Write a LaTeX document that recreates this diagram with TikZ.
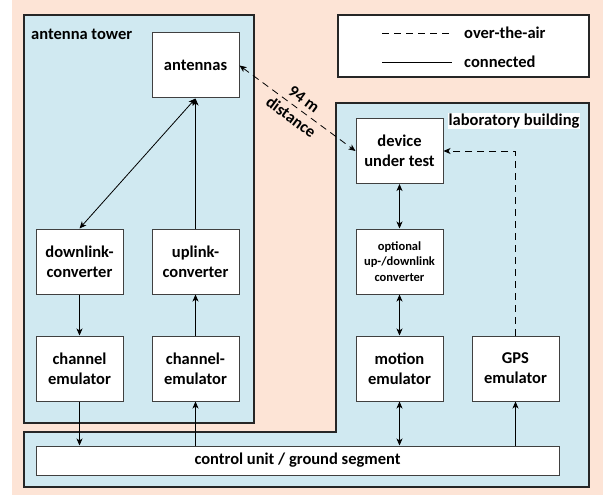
\documentclass[tikz,border=0pt]{standalone}
\usepackage{fontspec}
\setmainfont{Carlito}
\usetikzlibrary{arrows.meta}
\definecolor{peach}{HTML}{FDE4D6}
\definecolor{sky}{HTML}{D0E9F1}
\definecolor{edge}{HTML}{404040}
\begin{document}
\begin{tikzpicture}[x=1pt,y=-1pt,
  blk/.style={draw=edge,line width=1pt,fill=white,minimum width=87pt,minimum height=65pt,inner sep=0pt,align=center,font=\fontsize{16.5}{20}\selectfont\bfseries},
  region/.style={draw=black!85,line width=1.6pt,fill=sky},
  lbl/.style={font=\fontsize{16.5}{20}\selectfont\bfseries,inner sep=1pt},
  tip/.tip={Stealth[length=7pt,width=6pt,inset=2pt]},
  conn/.style={line width=0.8pt,-tip},
  both/.style={line width=0.8pt,tip-tip},
  ota/.style={dash pattern=on 7pt off 5pt}
]
\useasboundingbox (0,0) rectangle (603,495);
\fill[peach] (12,0) rectangle (603,495);
\draw[region] (24,15) rectangle (254,423);
\draw[region] (24,432) -- (336,432) -- (336,103) -- (589,103) -- (589,487) -- (24,487) -- cycle;
\draw[draw=black!85,line width=1.6pt,fill=white] (338,15) rectangle (589,77);

% legend
\coordinate (l1a) at (382,33); \coordinate (l1b) at (452,33);
\coordinate (l2a) at (382,62); \coordinate (l2b) at (452,62);
\draw[line width=0.8pt,ota] (l1a) -- (l1b);
\draw[line width=0.8pt] (l2a) -- (l2b);
\node[lbl,anchor=west] (lota) at (463,33) {over-the-air};
\node[lbl,anchor=west] (lcon) at (463,62) {connected};

% region labels
\node[lbl,anchor=west] (tower) at (30,34) {antenna tower};
\node[lbl,fill=white] (lab) at (514,121) {laboratory building};

% blocks
\node[blk] (ant) at (195.5,65.5) {antennas};
\node[blk] (dlc) at (79.5,261.5) {downlink-\\converter};
\node[blk] (ulc) at (195.5,261.5) {uplink-\\converter};
\node[blk] (ch1) at (79.5,368.5) {channel\\emulator};
\node[blk] (ch2) at (195.5,368.5) {channel-\\emulator};
\node[blk,minimum width=523pt,minimum height=29pt] (ctrl) at (297.5,460.5) {control unit / ground segment};
\node[blk] (dut) at (399.5,151) {device\\under test};
\node[blk,font=\fontsize{12.5}{15.5}\selectfont\bfseries] (opt) at (399.5,261.5) {optional\\up-/downlink\\converter};
\node[blk] (mot) at (399.5,368.5) {motion\\emulator};
\node[blk] (gps) at (515.5,368.5) {GPS\\emulator};

% connectors
\draw[both] (ant.south) -- (dlc.north);
\draw[conn] (ulc.north) -- (ant.south);
\draw[conn] (dlc) -- (ch1);
\draw[conn] (ch2) -- (ulc);
\draw[conn] (ch1.south) -- (ch1.south |- ctrl.north);
\draw[conn] (ch2.south |- ctrl.north) -- (ch2.south);
\draw[both] (dut) -- (opt);
\draw[both] (opt) -- (mot);
\draw[both] (mot.south) -- (mot.south |- ctrl.north);
\draw[conn] (gps.south |- ctrl.north) -- (gps.south);
\draw[conn,ota] (gps.north) |- (dut.east);
\draw[both,ota] (ant.east) -- node[sloped,font=\fontsize{16.5}{22}\selectfont\bfseries,inner sep=0pt,align=center] (dist) {94 m\\distance} (dut.west);
\end{tikzpicture}
\end{document}
